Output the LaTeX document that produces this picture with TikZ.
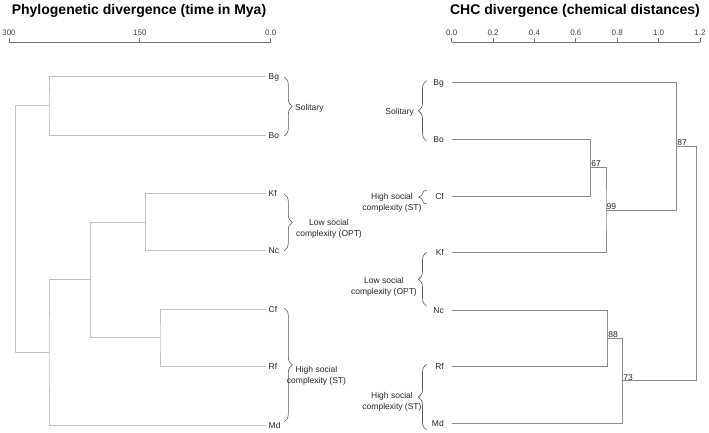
\documentclass[tikz,border=0pt]{standalone}
\usepackage{fontspec}
\setmainfont{Liberation Sans}
\usetikzlibrary{decorations.pathreplacing}
\begin{document}
\begin{tikzpicture}[x=1pt,y=-1pt,
  ltree/.style={draw=black!25, line width=0.9pt},
  rtree/.style={draw=black!45, line width=0.8pt},
  axisline/.style={draw=black!55, line width=0.7pt},
  ticklab/.style={font=\fontsize{8}{9}\selectfont, text=black!75, inner sep=0pt, anchor=base},
  ttl/.style={font=\bfseries\fontsize{14}{16}\selectfont, inner sep=0pt, anchor=base},
  leaf/.style={font=\fontsize{8.5}{10}\selectfont, text=black!85, inner sep=1.5pt},
  grp/.style={font=\fontsize{8.5}{11}\selectfont, text=black!85, inner sep=0pt, align=center},
  brc/.style={draw=black!65, line width=0.6pt, decorate, decoration={brace, amplitude=8pt}},
  boot/.style={font=\fontsize{8.5}{10}\selectfont, text=black!85, inner sep=0.5pt, anchor=south west}
]
\useasboundingbox (0,0) rectangle (709,432);
\fill[white] (0,0) rectangle (709,432);

% ---------- titles ----------
\node[ttl] (t1) at (139,14.5) {Phylogenetic divergence (time in Mya)};
\node[ttl] (t2) at (575,14.5) {CHC divergence (chemical distances)};

% ---------- left axis ----------
\coordinate (la0) at (9,42);
\coordinate (la1) at (139.8,42);
\coordinate (la2) at (270.7,42);
\draw[axisline] (la0) -- (la2);
\foreach \p/\t in {la0/300, la1/150, la2/0.0}{
  \draw[axisline] (\p) -- ++(0,-4);
  \node[ticklab] at ([yshift=7pt]\p) {\t};
}

% ---------- right axis ----------
\coordinate (ra0) at (451.7,42);
\coordinate (ra6) at (700,42);
\draw[axisline] (ra0) -- (ra6);
\foreach \i/\t in {0/0.0,1/0.2,2/0.4,3/0.6,4/0.8,5/1.0,6/1.2}{
  \coordinate (rt\i) at (451.7+41.38*\i,42);
  \draw[axisline] (rt\i) -- ++(0,-4);
  \node[ticklab] at ([yshift=7pt]rt\i) {\t};
}

% ---------- left tree ----------
\node[leaf, anchor=base west] (lBg) at (267,79.7) {Bg};
\node[leaf, anchor=base west] (lBo) at (267,138) {Bo};
\node[leaf, anchor=base west] (lKf) at (267,196.3) {Kf};
\node[leaf, anchor=base west] (lNc) at (267,253.7) {Nc};
\node[leaf, anchor=base west] (lCf) at (267,312) {Cf};
\node[leaf, anchor=base west] (lRf) at (267,369.7) {Rf};
\node[leaf, anchor=base west] (lMd) at (267,428) {Md};
\coordinate (Lbg) at (266,76.7);
\coordinate (Lbo) at (266,135);
\coordinate (Lkf) at (266,193.3);
\coordinate (Lnc) at (266,250.7);
\coordinate (Lcf) at (266,309);
\coordinate (Lrf) at (266,366.7);
\coordinate (Lmd) at (266,425);
\coordinate (LnA) at (49,105.85);
\coordinate (LnB) at (145.7,222);
\coordinate (LnC) at (160,337.85);
\coordinate (LnD) at (90.7,279.9);
\coordinate (LnE) at (49,352.5);
\coordinate (Lroot) at (15.7,229.2);
\draw[ltree] (Lbg) -| (LnA) |- (Lbo);
\draw[ltree] (Lkf) -| (LnB) |- (Lnc);
\draw[ltree] (Lcf) -| (LnC) |- (Lrf);
\draw[ltree] (LnB) -| (LnD) |- (LnC);
\draw[ltree] (LnD) -| (LnE) |- (Lmd);
\draw[ltree] (LnA) -| (Lroot) |- (LnE);

% left groups
\draw[brc] (284.3,77) -- (284.3,136);
\draw[brc] (284.3,194) -- (284.3,250.7);
\draw[brc] (284.3,308) -- (284.3,421.7);
\node[leaf, anchor=base west, inner sep=0pt] (gl1) at (295,110) {Solitary};
\node[grp] (gl2) at (329,228.3) {Low social\\complexity (OPT)};
\node[grp] (gl3) at (316.5,375.3) {High social\\complexity (ST)};

% ---------- right tree ----------
\node[leaf, anchor=base east] (rBg) at (445.5,85.7) {Bg};
\node[leaf, anchor=base east] (rBo) at (445.5,142.3) {Bo};
\node[leaf, anchor=base east] (rCf) at (445.5,199) {Cf};
\node[leaf, anchor=base east] (rKf) at (445.5,255.7) {Kf};
\node[leaf, anchor=base east] (rNc) at (445.5,313) {Nc};
\node[leaf, anchor=base east] (rRf) at (445.5,369.7) {Rf};
\node[leaf, anchor=base east] (rMd) at (445.5,426.3) {Md};
\coordinate (Rbg) at (451.7,82.7);
\coordinate (Rbo) at (451.7,139.3);
\coordinate (Rcf) at (451.7,196);
\coordinate (Rkf) at (451.7,252.7);
\coordinate (Rnc) at (451.7,310);
\coordinate (Rrf) at (451.7,366.7);
\coordinate (Rmd) at (451.7,423.3);
\coordinate (R67) at (590.7,167.65);
\coordinate (R99) at (606,210.2);
\coordinate (R87) at (676.7,146.4);
\coordinate (R88) at (607.7,338.35);
\coordinate (R73) at (622.7,380.8);
\coordinate (Rroot) at (696,263.6);
\draw[rtree] (Rbo) -| (R67) |- (Rcf);
\draw[rtree] (R67) -| (R99) |- (Rkf);
\draw[rtree] (Rbg) -| (R87) |- (R99);
\draw[rtree] (Rnc) -| (R88) |- (Rrf);
\draw[rtree] (R88) -| (R73) |- (Rmd);
\draw[rtree] (R87) -| (Rroot) |- (R73);
\node[boot] (b67) at (R67) {67};
\node[boot] (b99) at (R99) {99};
\node[boot] (b87) at (R87) {87};
\node[boot] (b88) at (R88) {88};
\node[boot] (b73) at (R73) {73};

% right groups
\draw[brc] (426.5,141) -- (426.5,80.7);
\draw[brc] (426.5,204) -- (426.5,190);
\draw[brc] (426.5,306) -- (426.5,252.3);
\draw[brc] (426.5,430) -- (426.5,364.3);
\node[leaf, anchor=base east, inner sep=0pt] (gr1) at (414,114) {Solitary};
\node[grp] (gr2) at (392,202.3) {High social\\complexity (ST)};
\node[grp] (gr3) at (384,286.3) {Low social\\complexity (OPT)};
\node[grp] (gr4) at (392,401.3) {High social\\complexity (ST)};
\end{tikzpicture}
\end{document}
